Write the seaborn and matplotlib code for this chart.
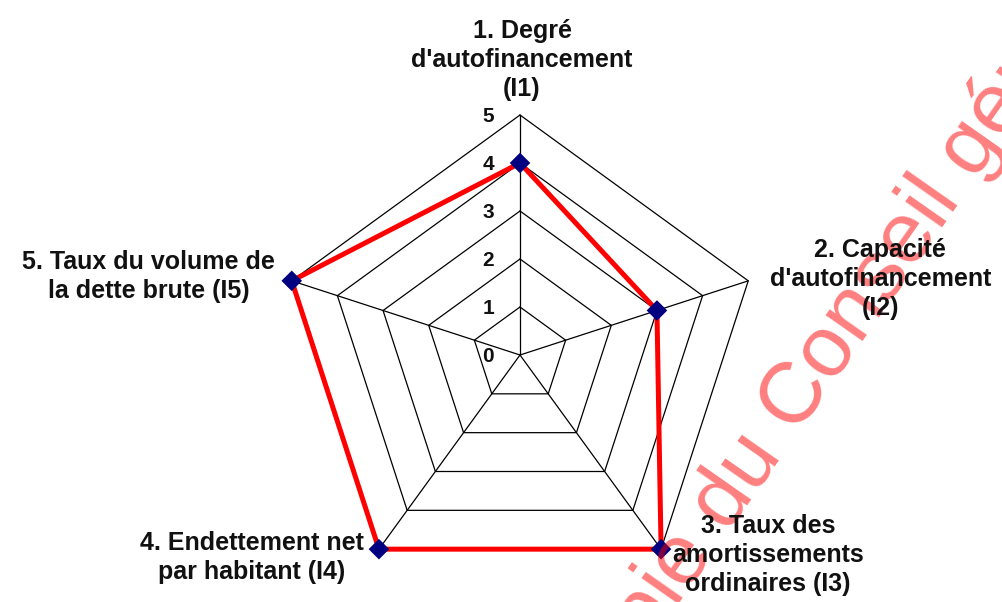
#!/usr/bin/env python3
"""
Radar (toile d'araignée) des indicateurs financiers I1..I5.
"""

import numpy as np
import pandas as pd
import matplotlib.pyplot as plt
import seaborn as sns

sns.set_theme(style="white")
plt.rcParams["font.family"] = ["Liberation Sans", "DejaVu Sans"]

# Données
CATEGORIES = [
    "1. Degré\nd'autofinancement\n(I1)",
    "2. Capacité\nd'autofinancement\n(I2)",
    "3. Taux des\namortissements\nordinaires (I3)",
    "4. Endettement net\npar habitant (I4)",
    "5. Taux du volume de\nla dette brute (I5)",
]
SCORES = [4, 3, 5, 5, 5]
RING_LEVELS = [1, 2, 3, 4, 5]
TICK_LABELS = ["0", "1", "2", "3", "4", "5"]
WATERMARK = "Copie du Conseil général"

# Décalage des étiquettes (pixels) par rapport au sommet extérieur
LABEL_OFFSETS = [(2, 55), (132, 2), (107, -6), (-127, -8), (-143, 4)]


def to_xy(values):
    """Convertit des rayons en coordonnées x, y (0° en haut, sens horaire)."""
    values = np.asarray(values, dtype=float)
    angles = np.arange(len(values)) * 2 * np.pi / len(values)
    return values * np.sin(angles), values * np.cos(angles)


def closed(df):
    return pd.concat([df, df.iloc[[0]]], ignore_index=True)


def main():
    fig = plt.figure(figsize=(10.02, 6.02), dpi=100)
    ax = fig.add_axes([0, 0, 1, 1])
    n = len(CATEGORIES)
    unit = 48.0  # pixels par graduation
    ax.set_xlim(-520 / unit, (1002 - 520) / unit)
    ax.set_ylim(-(602 - 355) / unit, 355 / unit)
    ax.set_axis_off()

    # Grille pentagonale
    for level in RING_LEVELS:
        gx, gy = to_xy([level] * n)
        ring = closed(pd.DataFrame({"x": gx, "y": gy}))
        sns.lineplot(data=ring, x="x", y="y", sort=False, estimator=None,
                     color="black", linewidth=0.9, ax=ax)
    ox, oy = to_xy([RING_LEVELS[-1]] * n)
    for x_end, y_end in zip(ox, oy):
        spoke = pd.DataFrame({"x": [0, x_end], "y": [0, y_end]})
        sns.lineplot(data=spoke, x="x", y="y", sort=False, estimator=None,
                     color="black", linewidth=0.9, ax=ax)

    # Série
    sx, sy = to_xy(SCORES)
    serie = pd.DataFrame({"x": sx, "y": sy})
    sns.lineplot(data=closed(serie), x="x", y="y", sort=False, estimator=None,
                 color="#ff0000", linewidth=3.6, ax=ax, zorder=3)
    sns.scatterplot(data=serie, x="x", y="y", marker="D", s=110,
                    color="#000080", edgecolor="none", ax=ax, zorder=4)

    # Graduations
    for i, lab in enumerate(TICK_LABELS):
        ax.annotate(lab, xy=(0, i), xytext=(-32, -2), textcoords="offset pixels",
                    ha="center", va="center", fontsize=15, fontweight="bold",
                    color="#111111", zorder=6)

    # Étiquettes des axes
    for (x_end, y_end), cat, off in zip(zip(ox, oy), CATEGORIES, LABEL_OFFSETS):
        ax.annotate(cat, xy=(x_end, y_end), xytext=off, textcoords="offset pixels",
                    ha="center", va="center", multialignment="center",
                    fontsize=18, fontweight="bold", color="#111111",
                    linespacing=1.25, zorder=6)

    # Filigrane (sous les textes, au-dessus des tracés)
    ax.text(585 / 1002, 1 - 738 / 602, WATERMARK, transform=ax.transAxes,
            rotation=55, rotation_mode="anchor", ha="left", va="baseline",
            fontsize=62, color="#ff0000", alpha=0.5, zorder=5, clip_on=False)

    fig.savefig("out.png", dpi=100)
    plt.close(fig)


if __name__ == "__main__":
    main()
